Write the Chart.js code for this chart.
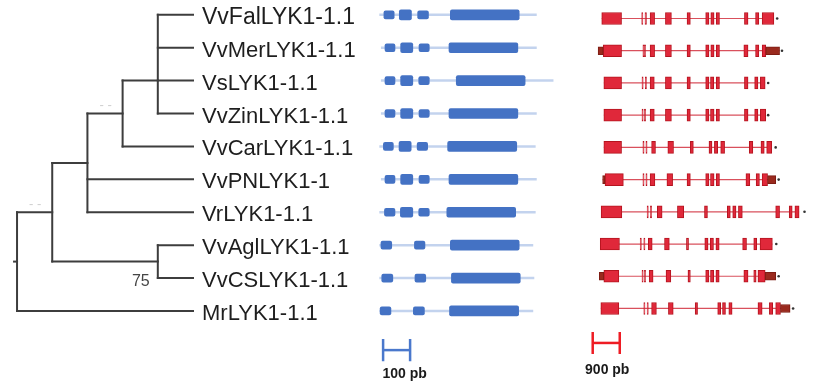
<!DOCTYPE html>
<html>
<head>
<meta charset="utf-8">
<script src="https://cdn.jsdelivr.net/npm/chart.js@4/dist/chart.umd.min.js"></script>
<style>
  html, body { margin: 0; padding: 0; background: #ffffff; }
  #wrap { position: relative; width: 813px; height: 384px; overflow: hidden; background: #ffffff; }
  #wrap canvas { position: absolute; top: 0; }
</style>
</head>
<body>
<div id="wrap">
  <canvas id="tree" width="372" height="384" style="left:0px"></canvas>
  <canvas id="cds" width="190" height="384" style="left:375px"></canvas>
  <canvas id="gene" width="233" height="384" style="left:580px"></canvas>
</div>
<script>
// ---------- taxa, top to bottom ----------
const taxa = [
  'VvFalLYK1-1.1', 'VvMerLYK1-1.1', 'VsLYK1-1.1', 'VvZinLYK1-1.1', 'VvCarLYK1-1.1',
  'VvPNLYK1-1', 'VrLYK1-1.1', 'VvAglLYK1-1.1', 'VvCSLYK1-1.1', 'MrLYK1-1.1'
];

// ---------- cladogram: internal nodes ----------
const nodeIds      = ['A', 'B', 'C', 'D', 'E', 'R'];
const nodeDepth    = [0.80, 0.60, 0.40, 0.80, 0.20, 0.00];
const nodeRow      = [2, 3, 4.5, 7.5, 6, 7.5];
const nodeChildren = [[0, 1, 2, 3], ['A', 4], ['B', 5, 6], [7, 8], ['C', 'D'], ['E', 9]];
const nodeSupport  = ['', '- -', '', '75', '- -', ''];
const TIP_DEPTH = 1.0;

// ---------- coding sequence models (bp) ----------
const cdsExons = [
  [[18, 56], [75, 120], [143, 183], [264, 519]],
  [[22, 59], [80, 125], [148, 186], [259, 514]],
  [[22, 59], [80, 125], [147, 186], [286, 541]],
  [[22, 59], [80, 125], [148, 186], [259, 514]],
  [[16, 53], [74, 119], [141, 180], [254, 510]],
  [[22, 59], [80, 125], [148, 186], [259, 514]],
  [[20, 59], [79, 125], [147, 186], [251, 506]],
  [[7, 47], [131, 170], [264, 519]],
  [[10, 51], [133, 173], [268, 523]],
  [[4, 44], [127, 168], [261, 517]]
];
const cdsSpan = [[1, 584], [7, 584], [7, 646], [7, 584], [1, 580], [7, 584], [1, 580], [1, 571], [1, 575], [1, 571]];
const CDS_SCALE_BP = 100;

// ---------- genomic models (bp) ----------
const geneExons = [
  [[140, 800], [1470, 1510], [1580, 1630], [1750, 1900], [2260, 2460], [2980, 3090], [3600, 3710], [3770, 3880], [3950, 4060], [4890, 5010], [5260, 5370], [5480, 5870]],
  [[190, 800], [1510, 1550], [1560, 1600], [1750, 1900], [2260, 2460], [2980, 3090], [3600, 3710], [3770, 3880], [3950, 4060], [4870, 5010], [5260, 5370], [5480, 5600]],
  [[210, 800], [1480, 1520], [1590, 1630], [1750, 1890], [2260, 2460], [2980, 3090], [3600, 3710], [3760, 3870], [3950, 4060], [4890, 5010], [5230, 5340], [5420, 5580]],
  [[210, 800], [1480, 1520], [1560, 1600], [1750, 1890], [2260, 2460], [2980, 3090], [3600, 3710], [3760, 3880], [3950, 4060], [4890, 5010], [5230, 5340], [5420, 5600]],
  [[210, 800], [1510, 1550], [1610, 1650], [1800, 1930], [2340, 2530], [3090, 3190], [3710, 3810], [3890, 4000], [4100, 4230], [5050, 5170], [5440, 5550], [5630, 5800]],
  [[250, 860], [1510, 1550], [1610, 1650], [1750, 1910], [2310, 2500], [2980, 3090], [3600, 3710], [3760, 3880], [3950, 4060], [4940, 5070], [5280, 5390], [5480, 5660]],
  [[120, 810], [1650, 1690], [1760, 1800], [1990, 2150], [2660, 2870], [3560, 3660], [4320, 4420], [4500, 4610], [4690, 4820], [5930, 6060], [6380, 6480], [6570, 6710]],
  [[90, 730], [1420, 1460], [1540, 1580], [1690, 1820], [2230, 2390], [2960, 3030], [3570, 3680], [3750, 3860], [3940, 4050], [4830, 4960], [5200, 5300], [5410, 5820]],
  [[210, 710], [1480, 1520], [1560, 1600], [1720, 1850], [2280, 2440], [3010, 3090], [3600, 3710], [3760, 3870], [3940, 4050], [4870, 5010], [5200, 5280], [5340, 5580]],
  [[110, 710], [1540, 1580], [1650, 1690], [1800, 1960], [2360, 2520], [3250, 3330], [4000, 4100], [4160, 4260], [4370, 4480], [5340, 5480], [5720, 5830], [5930, 6090]]
];
const geneUtr = [
  [],
  [[20, 190], [5600, 6060]],
  [],
  [],
  [],
  [[170, 250], [5660, 5930]],
  [],
  [],
  [[60, 210], [5580, 5930]],
  [[6090, 6410]]
];
const geneStop = [5980, 6140, 5680, 5680, 5930, 6030, 6890, 5950, 6030, 6510];
const GENE_SCALE_BP = 900;

// ---------- layout ----------
const ROW_MIN = -0.45, ROW_MAX = 11.22;
const TREE_X_MIN = -0.04, ROOT_STUB = 0.017;
const CDS_PX_PER_BP = 0.27, CDS_X_MIN = -15, CDS_WIDTH = 190;
const GENE_PX_PER_BP = 28 / 900, GENE_X_MIN = -450, GENE_WIDTH = 233;
const CDS_BAR = { start: 15, row: 10.19, textShift: 8 };
const GENE_BAR = { start: -160, row: 10.07, textShift: 1 };
const CAP = 0.34, LABEL_ROW = 11.04;
const FONT = '"Liberation Sans", Arial, sans-serif';

const rowAxis = (extra) => Object.assign({
  type: 'linear', reverse: true, min: ROW_MIN, max: ROW_MAX, offset: false, display: false
}, extra || {});

const baseOptions = {
  responsive: false,
  animation: false,
  devicePixelRatio: 1,
  events: [],
  plugins: { legend: { display: false }, tooltip: { enabled: false } }
};

const lineSeg = (pts, color, width, order) => ({
  type: 'line',
  data: pts.map(([x, y]) => ({ x, y })),
  borderColor: color,
  borderWidth: width,
  pointRadius: 0,
  fill: false,
  clip: false,
  order: order,
  borderCapStyle: 'butt'
});

// ---------- tree ----------
const childRow = (c) => typeof c === 'number' ? c : nodeRow[nodeIds.indexOf(c)];
const childDepth = (c) => typeof c === 'number' ? TIP_DEPTH : nodeDepth[nodeIds.indexOf(c)];
const treeDatasets = [];
const TREE_COLOR = '#3d3d3d';
nodeIds.forEach((id, i) => {
  const rows = nodeChildren[i].map(childRow);
  treeDatasets.push(lineSeg([[nodeDepth[i], Math.min(...rows)], [nodeDepth[i], Math.max(...rows)]], TREE_COLOR, 2, 1));
  nodeChildren[i].forEach(c => {
    treeDatasets.push(lineSeg([[nodeDepth[i], childRow(c)], [childDepth(c), childRow(c)]], TREE_COLOR, 2, 1));
  });
});
const rootIdx = nodeIds.indexOf('R');
treeDatasets.push(lineSeg([[nodeDepth[rootIdx] - ROOT_STUB, nodeRow[rootIdx]], [nodeDepth[rootIdx], nodeRow[rootIdx]]], TREE_COLOR, 2, 1));
treeDatasets.forEach(d => d.borderCapStyle = 'square');

const supportLabels = {
  id: 'supportLabels',
  afterDatasetsDraw(chart) {
    const { ctx, scales: { x, y } } = chart;
    ctx.save();
    ctx.textAlign = 'center';
    ctx.textBaseline = 'middle';
    nodeSupport.forEach((s, i) => {
      if (!s) return;
      const numeric = /\d/.test(s);
      ctx.font = (numeric ? '16px ' : '13px ') + FONT;
      ctx.fillStyle = numeric ? '#454545' : '#cfcfcf';
      ctx.fillText(s, x.getPixelForValue(nodeDepth[i]) - 17, y.getPixelForValue(nodeRow[i]) + (numeric ? 20 : -8));
    });
    ctx.restore();
  }
};

new Chart(document.getElementById('tree'), {
  type: 'line',
  data: { datasets: treeDatasets },
  plugins: [supportLabels],
  options: Object.assign({}, baseOptions, {
    layout: { padding: { left: 10, right: 0, top: 0, bottom: 0 } },
    scales: {
      x: { type: 'linear', min: TREE_X_MIN, max: TIP_DEPTH, display: false },
      y: rowAxis({
        display: true,
        position: 'right',
        grid: { display: false, drawTicks: false },
        border: { display: false },
        afterBuildTicks: (ax) => { ax.ticks = taxa.map((_, i) => ({ value: i })); },
        afterFit: (ax) => { ax.width = 179; ax.paddingTop = 0; ax.paddingBottom = 0; },
        ticks: {
          autoSkip: false,
          padding: 9,
          labelOffset: 3,
          color: '#1e1e1e',
          callback: (v) => taxa[v],
          font: (ctx) => ({ family: FONT, size: ctx.index === 0 ? 23 : 22 })
        }
      })
    }
  })
});

// ---------- scale bar helpers ----------
const scaleBar = (start, len, row, color) => [
  lineSeg([[start, row], [start + len, row]], color, 2.5, 0),
  lineSeg([[start, row - CAP], [start, row + CAP]], color, 2.5, 0),
  lineSeg([[start + len, row - CAP], [start + len, row + CAP]], color, 2.5, 0)
];
const scaleText = (text, start, len, shift) => ({
  id: 'scaleText',
  afterDatasetsDraw(chart) {
    const { ctx, scales: { x, y } } = chart;
    ctx.save();
    ctx.font = 'bold 14px ' + FONT;
    ctx.fillStyle = '#1a1a1a';
    ctx.textAlign = 'center';
    ctx.textBaseline = 'alphabetic';
    ctx.fillText(text, (x.getPixelForValue(start) + x.getPixelForValue(start + len)) / 2 + shift, y.getPixelForValue(LABEL_ROW));
    ctx.restore();
  }
});

// ---------- coding sequence panel ----------
const BLUE = '#4472c4', BLUE_LINE = '#c3d3ee';
const cdsDatasets = [];
cdsSpan.forEach((s, r) => cdsDatasets.push(lineSeg([[s[0], r], [s[1], r]], BLUE_LINE, 2.5, 3)));
const shortExons = [], longExons = [];
cdsExons.forEach((exons, r) => exons.forEach(([a, b]) => {
  (b - a > 42 ? longExons : shortExons).push({ x: [a, b], y: r });
}));
cdsDatasets.push({ type: 'bar', data: shortExons, backgroundColor: BLUE, barThickness: 8, borderRadius: 2, borderSkipped: false, grouped: false, order: 1 });
cdsDatasets.push({ type: 'bar', data: longExons, backgroundColor: BLUE, barThickness: 10, borderRadius: 2, borderSkipped: false, grouped: false, order: 1 });
cdsDatasets.push(...scaleBar(CDS_BAR.start, CDS_SCALE_BP, CDS_BAR.row, '#4a78cc'));

new Chart(document.getElementById('cds'), {
  type: 'bar',
  data: { datasets: cdsDatasets },
  plugins: [scaleText(CDS_SCALE_BP + ' pb', CDS_BAR.start, CDS_SCALE_BP, CDS_BAR.textShift)],
  options: Object.assign({}, baseOptions, {
    indexAxis: 'y',
    layout: { padding: 0 },
    scales: {
      x: { type: 'linear', display: false, min: CDS_X_MIN, max: CDS_X_MIN + CDS_WIDTH / CDS_PX_PER_BP },
      y: rowAxis()
    }
  })
});

// ---------- genomic panel ----------
const RED = '#e0283a', RED_EDGE = '#b5141f', RED_UTR = '#9a2a1e', RED_LINE = '#d9505c';
const geneDatasets = [];
geneExons.forEach((exons, r) => {
  const all = exons.concat(geneUtr[r]);
  const lo = Math.min(...all.map(e => e[0])), hi = Math.max(...all.map(e => e[1]));
  geneDatasets.push(lineSeg([[lo, r], [hi, r]], RED_LINE, 1.2, 3));
});
geneDatasets.push({
  type: 'bar',
  data: geneExons.flatMap((exons, r) => exons.map(([a, b]) => ({ x: [a, b], y: r }))),
  backgroundColor: RED, borderColor: RED_EDGE, borderWidth: 1, barThickness: 12,
  borderSkipped: false, grouped: false, order: 2
});
geneDatasets.push({
  type: 'bar',
  data: geneUtr.flatMap((u, r) => u.map(([a, b]) => ({ x: [a, b], y: r }))),
  backgroundColor: RED_UTR, borderColor: '#7e1d14', borderWidth: 1, barThickness: 8,
  borderSkipped: false, grouped: false, order: 1
});
geneDatasets.push({
  type: 'scatter',
  data: geneStop.map((s, r) => ({ x: s, y: r })),
  backgroundColor: '#333333', borderColor: '#333333', pointRadius: 1.3, borderWidth: 0,
  showLine: false, clip: false, order: 0
});
geneDatasets.push(...scaleBar(GENE_BAR.start, GENE_SCALE_BP, GENE_BAR.row, '#ee1c24'));

new Chart(document.getElementById('gene'), {
  type: 'bar',
  data: { datasets: geneDatasets },
  plugins: [scaleText(GENE_SCALE_BP + ' pb', GENE_BAR.start, GENE_SCALE_BP, GENE_BAR.textShift)],
  options: Object.assign({}, baseOptions, {
    indexAxis: 'y',
    layout: { padding: 0 },
    scales: {
      x: { type: 'linear', display: false, min: GENE_X_MIN, max: GENE_X_MIN + GENE_WIDTH / GENE_PX_PER_BP },
      y: rowAxis()
    }
  })
});
</script>
</body>
</html>
